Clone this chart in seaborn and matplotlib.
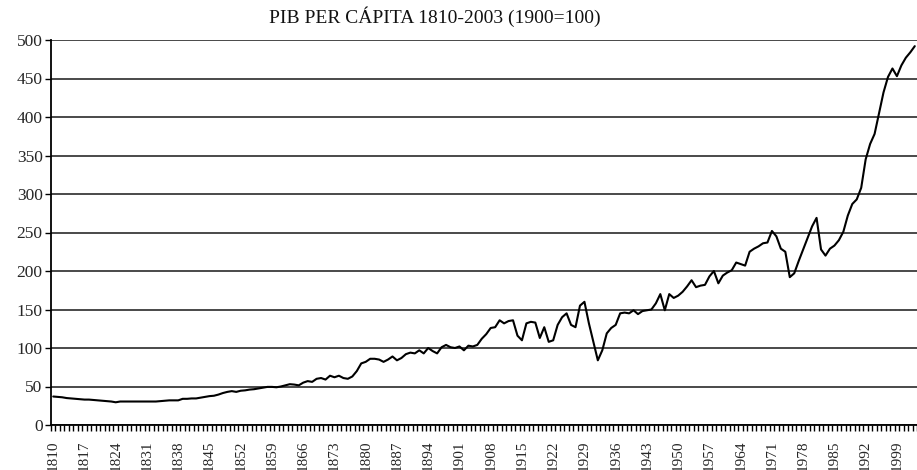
import matplotlib
matplotlib.use("Agg")
import matplotlib.pyplot as plt
import seaborn as sns
import numpy as np
import pandas as pd

# -------------------------------
# DATA (1900 = 100)
# -------------------------------
years = list(range(1810, 2004))
pib = [
    37, 36.5, 36, 35, 34.5, 34, 33.5, 33, 33, 32.5,          # 1810s
    32, 31.5, 31, 30.5, 29.5, 30.5, 30.5, 30.5, 30.5, 30.5,  # 1820s
    30.5, 30.5, 30.5, 30.5, 31, 31.5, 32, 32, 32, 34,        # 1830s
    34, 34.5, 34.5, 35.5, 36.5, 37.5, 38, 39.5, 41.5, 43,    # 1840s
    44, 43, 44.5, 45, 46, 46.5, 47.5, 48.5, 49.5, 49.5,      # 1850s
    49, 50, 51.5, 53, 52.5, 51.5, 55, 57, 56, 60,            # 1860s
    61, 59, 64, 62, 64, 61, 60, 63, 70, 80,                  # 1870s
    82, 86, 86, 85, 82, 85, 89, 84, 87, 92,                  # 1880s
    94, 93, 97, 93, 100, 96, 93, 101, 104, 101,              # 1890s
    100, 102, 97, 103, 102, 104, 112, 118, 126, 127,         # 1900s
    136, 132, 135, 136, 116, 110, 132, 134, 133, 113,        # 1910s
    127, 108, 110, 130, 140, 145, 130, 127, 155, 160,        # 1920s
    132, 108, 84, 97, 119, 126, 130, 145, 146, 145,          # 1930s
    149, 144, 148, 149, 150, 158, 170, 149, 170, 165,        # 1940s
    168, 173, 180, 188, 179, 181, 182, 193, 200, 184,        # 1950s
    194, 198, 201, 211, 209, 207, 225, 229, 232, 236,        # 1960s
    237, 252, 245, 229, 225, 192, 197, 213, 228, 243,        # 1970s
    258, 269, 228, 220, 229, 233, 240, 251, 272, 287,        # 1980s
    293, 308, 345, 365, 378, 405, 432, 452, 463, 453,        # 1990s
    467, 477, 484, 492,                                      # 2000s
]
title = "PIB PER CÁPITA 1810-2003 (1900=100)"

df = pd.DataFrame({"year": years, "pib": pib})

# -------------------------------
# STYLE
# -------------------------------
sns.set_style("white")
plt.rcParams["font.family"] = ["Liberation Serif", "DejaVu Serif"]

fig = plt.figure(figsize=(9.17, 4.70), dpi=100)
ax = fig.add_axes([51 / 917, 1 - 425 / 470, 1 - 51 / 917, 385 / 470])

sns.lineplot(data=df, x="year", y="pib", color="black", lw=1.5, ax=ax)

# -------------------------------
# AXES
# -------------------------------
ax.set_xlim(1809.5, 1809.5 + 866 / 4.5)
ax.set_ylim(0, 500)
ax.set_xlabel("")
ax.set_ylabel("")

ax.set_yticks(range(0, 501, 50))
ax.yaxis.grid(True, color="#3a3a3a", lw=1.3)
ax.xaxis.grid(False)
ax.set_axisbelow(True)
ax.tick_params(axis="y", which="major", direction="out", length=4, width=1,
               color="black", labelsize=12.5, pad=2, left=True)

# year labels every 7 years, one tick mark per year
ax.set_xticks(years[::7])
ax.set_xticklabels([str(y) for y in years[::7]], rotation=90, va="top")
ax.set_xticks(np.arange(1809.5, 2004, 1.0), minor=True)
ax.tick_params(axis="x", which="major", length=0, labelsize=11, pad=11)
ax.tick_params(axis="x", which="minor", direction="out", length=4, width=1,
               color="black", bottom=True)

for side in ["top", "right"]:
    ax.spines[side].set_visible(False)
for side in ["left", "bottom"]:
    ax.spines[side].set_color("black")
    ax.spines[side].set_linewidth(1.3)

fig.text(435 / 917, 1 - 17 / 470, title, ha="center", va="center",
         fontsize=14, color="#111111")

fig.savefig("out.png", dpi=100)
